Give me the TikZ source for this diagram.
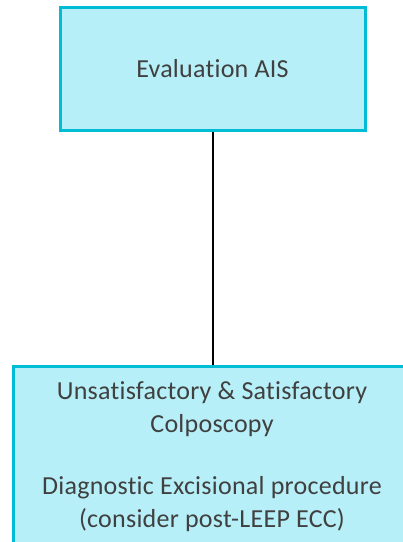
\documentclass[tikz,border=0pt]{standalone}
\usepackage{fontspec}
\setmainfont[Ligatures=NoCommon, LetterSpace=1]{Carlito}
\begin{document}
\begin{tikzpicture}[x=1pt,y=-1pt,
  box/.style={draw=boxline, line width=3pt, fill=boxfill, inner sep=0pt, text=textgray, align=center},
  label/.style={text=textgray, align=center, font=\fontsize{26}{33}\selectfont},
  link/.style={line width=2pt, black}]
\definecolor{boxfill}{HTML}{B6EFF7}
\definecolor{boxline}{HTML}{00BCD4}
\definecolor{textgray}{HTML}{404040}
\useasboundingbox (0,0) rectangle (403,542);
\node[box, minimum width=305pt, minimum height=123pt, label] (eval) at (212.5,68.5) {Evaluation AIS};
\node[box, minimum width=410pt, minimum height=200pt, anchor=north west] (proc) at (12,365) {};
% text of the lower box, placed by the baseline of its last line
\node[label, anchor=base] (proctext) at (212,527)
  {Unsatisfactory \& Satisfactory\\Colposcopy\\[29pt]Diagnostic Excisional procedure\\(consider post-LEEP ECC)};
\draw[link] (eval.south) -- (eval.south |- proc.north);
\end{tikzpicture}
\end{document}
